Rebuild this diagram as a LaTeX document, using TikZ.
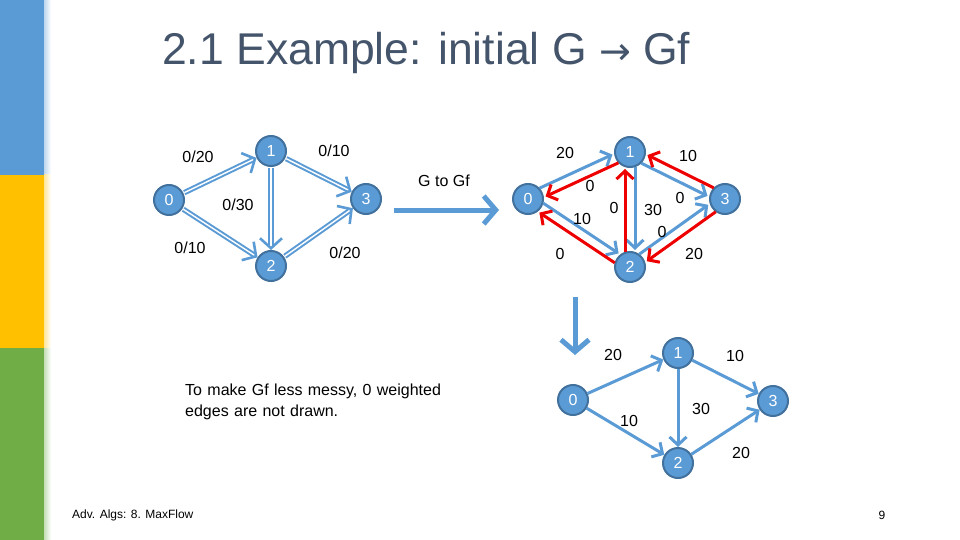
\documentclass[tikz,border=0pt]{standalone}
\usepackage{fontspec}
\setmainfont{Liberation Sans}
\newfontfamily\arrowfont{DejaVu Sans}
\usetikzlibrary{arrows.meta,calc}
\definecolor{barblue}{HTML}{5B9BD5}
\definecolor{baryellow}{HTML}{FFC000}
\definecolor{bargreen}{HTML}{70AD47}
\definecolor{titlegray}{HTML}{44546A}
\definecolor{vtxfill}{HTML}{5B9BD5}
\definecolor{vtxline}{HTML}{41719C}
\definecolor{edgeblue}{HTML}{5B9BD5}
\definecolor{resred}{HTML}{EE0000}
\tikzset{
  vtx/.style={circle,fill=vtxfill,draw=vtxline,line width=2pt,minimum size=30pt,inner sep=0pt,text=white,font=\fontsize{16}{18}\selectfont},
  lbl/.style={anchor=center,inner sep=1pt,font=\fontsize{16}{19}\selectfont},
  gedge/.style={draw=edgeblue,double=white,double distance=1.4pt,line width=2pt,-{Straight Barb[length=10pt,width=22pt,line width=2.6pt]},shorten <=1pt},
  fwd/.style={edgeblue,line width=3pt,-{Straight Barb[length=8pt,width=17pt,line width=3pt]}},
  back/.style={resred,line width=3pt,-{Straight Barb[length=8pt,width=17pt,line width=3pt]}},
  offs/.style={shorten <=15pt,shorten >=17pt},
  bigarrow/.style={edgeblue,line width=5pt,-{Straight Barb[length=12pt,width=28pt,line width=5pt]}}
}
\begin{document}
\begin{tikzpicture}[x=1pt,y=-1pt]
\path[use as bounding box] (0,0) rectangle (960,540);
% side bars
\fill[barblue] (0,0) rectangle (44,175);
\fill[baryellow] (0,175) rectangle (44,348);
\fill[bargreen] (0,348) rectangle (44,540);
\shade[left color=barblue!40,right color=white] (44,0) rectangle (51,175);
\shade[left color=baryellow!40,right color=white] (44,175) rectangle (51,348);
\shade[left color=bargreen!40,right color=white] (44,348) rectangle (51,540);
% title
\node[anchor=base west,inner sep=0pt,text=titlegray,font=\fontsize{44.5}{50}\selectfont] (title) at (162,65) {2.1 Example: initial G {\arrowfont\fontsize{38}{44}\selectfont →} Gf};

% initial G
\node[vtx] (a0) at (169,200) {0};
\node[vtx] (a1) at (271,151) {1};
\node[vtx] (a2) at (271,266) {2};
\node[vtx] (a3) at (366,199) {3};
\draw[gedge] (a0) -- (a1);
\draw[gedge] (a0) -- (a2);
\draw[gedge] (a1) -- (a2);
\draw[gedge] (a1) -- (a3);
\draw[gedge] (a2) -- (a3);
\node[lbl] (la01) at (198,157) {0/20};
\node[lbl] (la13) at (334,151) {0/10};
\node[lbl] (la12) at (238,205) {0/30};
\node[lbl] (la02) at (190,248) {0/10};
\node[lbl] (la23) at (345,253) {0/20};

% G to Gf
\node[lbl] (gtogf) at (444,181) {G to Gf};
\coordinate (r0) at (394,210);
\coordinate (r1) at (499,210);
\draw[bigarrow] (r0) -- (r1);

% residual Gf, all edges
\node[vtx] (b0) at (528,199) {0};
\node[vtx] (b1) at (630,152) {1};
\node[vtx] (b2) at (630,267) {2};
\node[vtx] (b3) at (725,199) {3};
\draw[fwd,offs] ($(b0)!5pt!90:(b1)$) -- ($(b1)!5pt!-90:(b0)$);
\draw[fwd,offs] ($(b0)!5pt!90:(b2)$) -- ($(b2)!5pt!-90:(b0)$);
\draw[fwd,offs] ($(b1)!5pt!90:(b2)$) -- ($(b2)!5pt!-90:(b1)$);
\draw[fwd,offs] ($(b1)!5pt!-90:(b3)$) -- ($(b3)!5pt!90:(b1)$);
\draw[fwd,offs] ($(b2)!5pt!90:(b3)$) -- ($(b3)!5pt!-90:(b2)$);
\draw[back,offs] ($(b1)!5pt!90:(b0)$) -- ($(b0)!5pt!-90:(b1)$);
\draw[back,offs] ($(b2)!5pt!90:(b0)$) -- ($(b0)!5pt!-90:(b2)$);
\draw[back,offs] ($(b2)!5pt!90:(b1)$) -- ($(b1)!5pt!-90:(b2)$);
\draw[back,offs] ($(b3)!5pt!-90:(b1)$) -- ($(b1)!5pt!90:(b3)$);
\draw[back,offs] ($(b3)!5pt!90:(b2)$) -- ($(b2)!5pt!-90:(b3)$);
\node[lbl] (lb01) at (565,153) {20};
\node[lbl] (lb10) at (590,186) {0};
\node[lbl] (lb02) at (582,219) {10};
\node[lbl] (lb20) at (560,254) {0};
\node[lbl] (lb21) at (614,208) {0};
\node[lbl] (lb12) at (653,210) {30};
\node[lbl] (lb13) at (688,156) {10};
\node[lbl] (lb31) at (680,198) {0};
\node[lbl] (lb32) at (662,232) {0};
\node[lbl] (lb23) at (694,254) {20};

% down arrow
\coordinate (d0) at (575,297);
\coordinate (d1) at (575,355);
\draw[bigarrow] (d0) -- (d1);

% Gf without 0 weighted edges
\node[vtx] (c0) at (573,400) {0};
\node[vtx] (c1) at (678,353) {1};
\node[vtx] (c2) at (678,463) {2};
\node[vtx] (c3) at (773,401) {3};
\draw[fwd] (c0) -- (c1);
\draw[fwd] (c0) -- (c2);
\draw[fwd] (c1) -- (c2);
\draw[fwd] (c1) -- (c3);
\draw[fwd] (c2) -- (c3);
\node[lbl] (lc01) at (613,355) {20};
\node[lbl] (lc13) at (735,356) {10};
\node[lbl] (lc12) at (701,409) {30};
\node[lbl] (lc02) at (629,421) {10};
\node[lbl] (lc23) at (741,453) {20};

% note and footer
\node[anchor=north west,inner sep=0pt,text width=300pt,font=\fontsize{16}{21}\selectfont] (note) at (185,384) {To make Gf less messy, 0 weighted edges are not drawn.};
\node[anchor=west,inner sep=0pt,font=\fontsize{12}{14}\selectfont] (foot) at (72,515) {Adv. Algs: 8. MaxFlow};
\node[anchor=center,inner sep=0pt,font=\fontsize{12}{14}\selectfont] (pg) at (882,515) {9};
\end{tikzpicture}
\end{document}
